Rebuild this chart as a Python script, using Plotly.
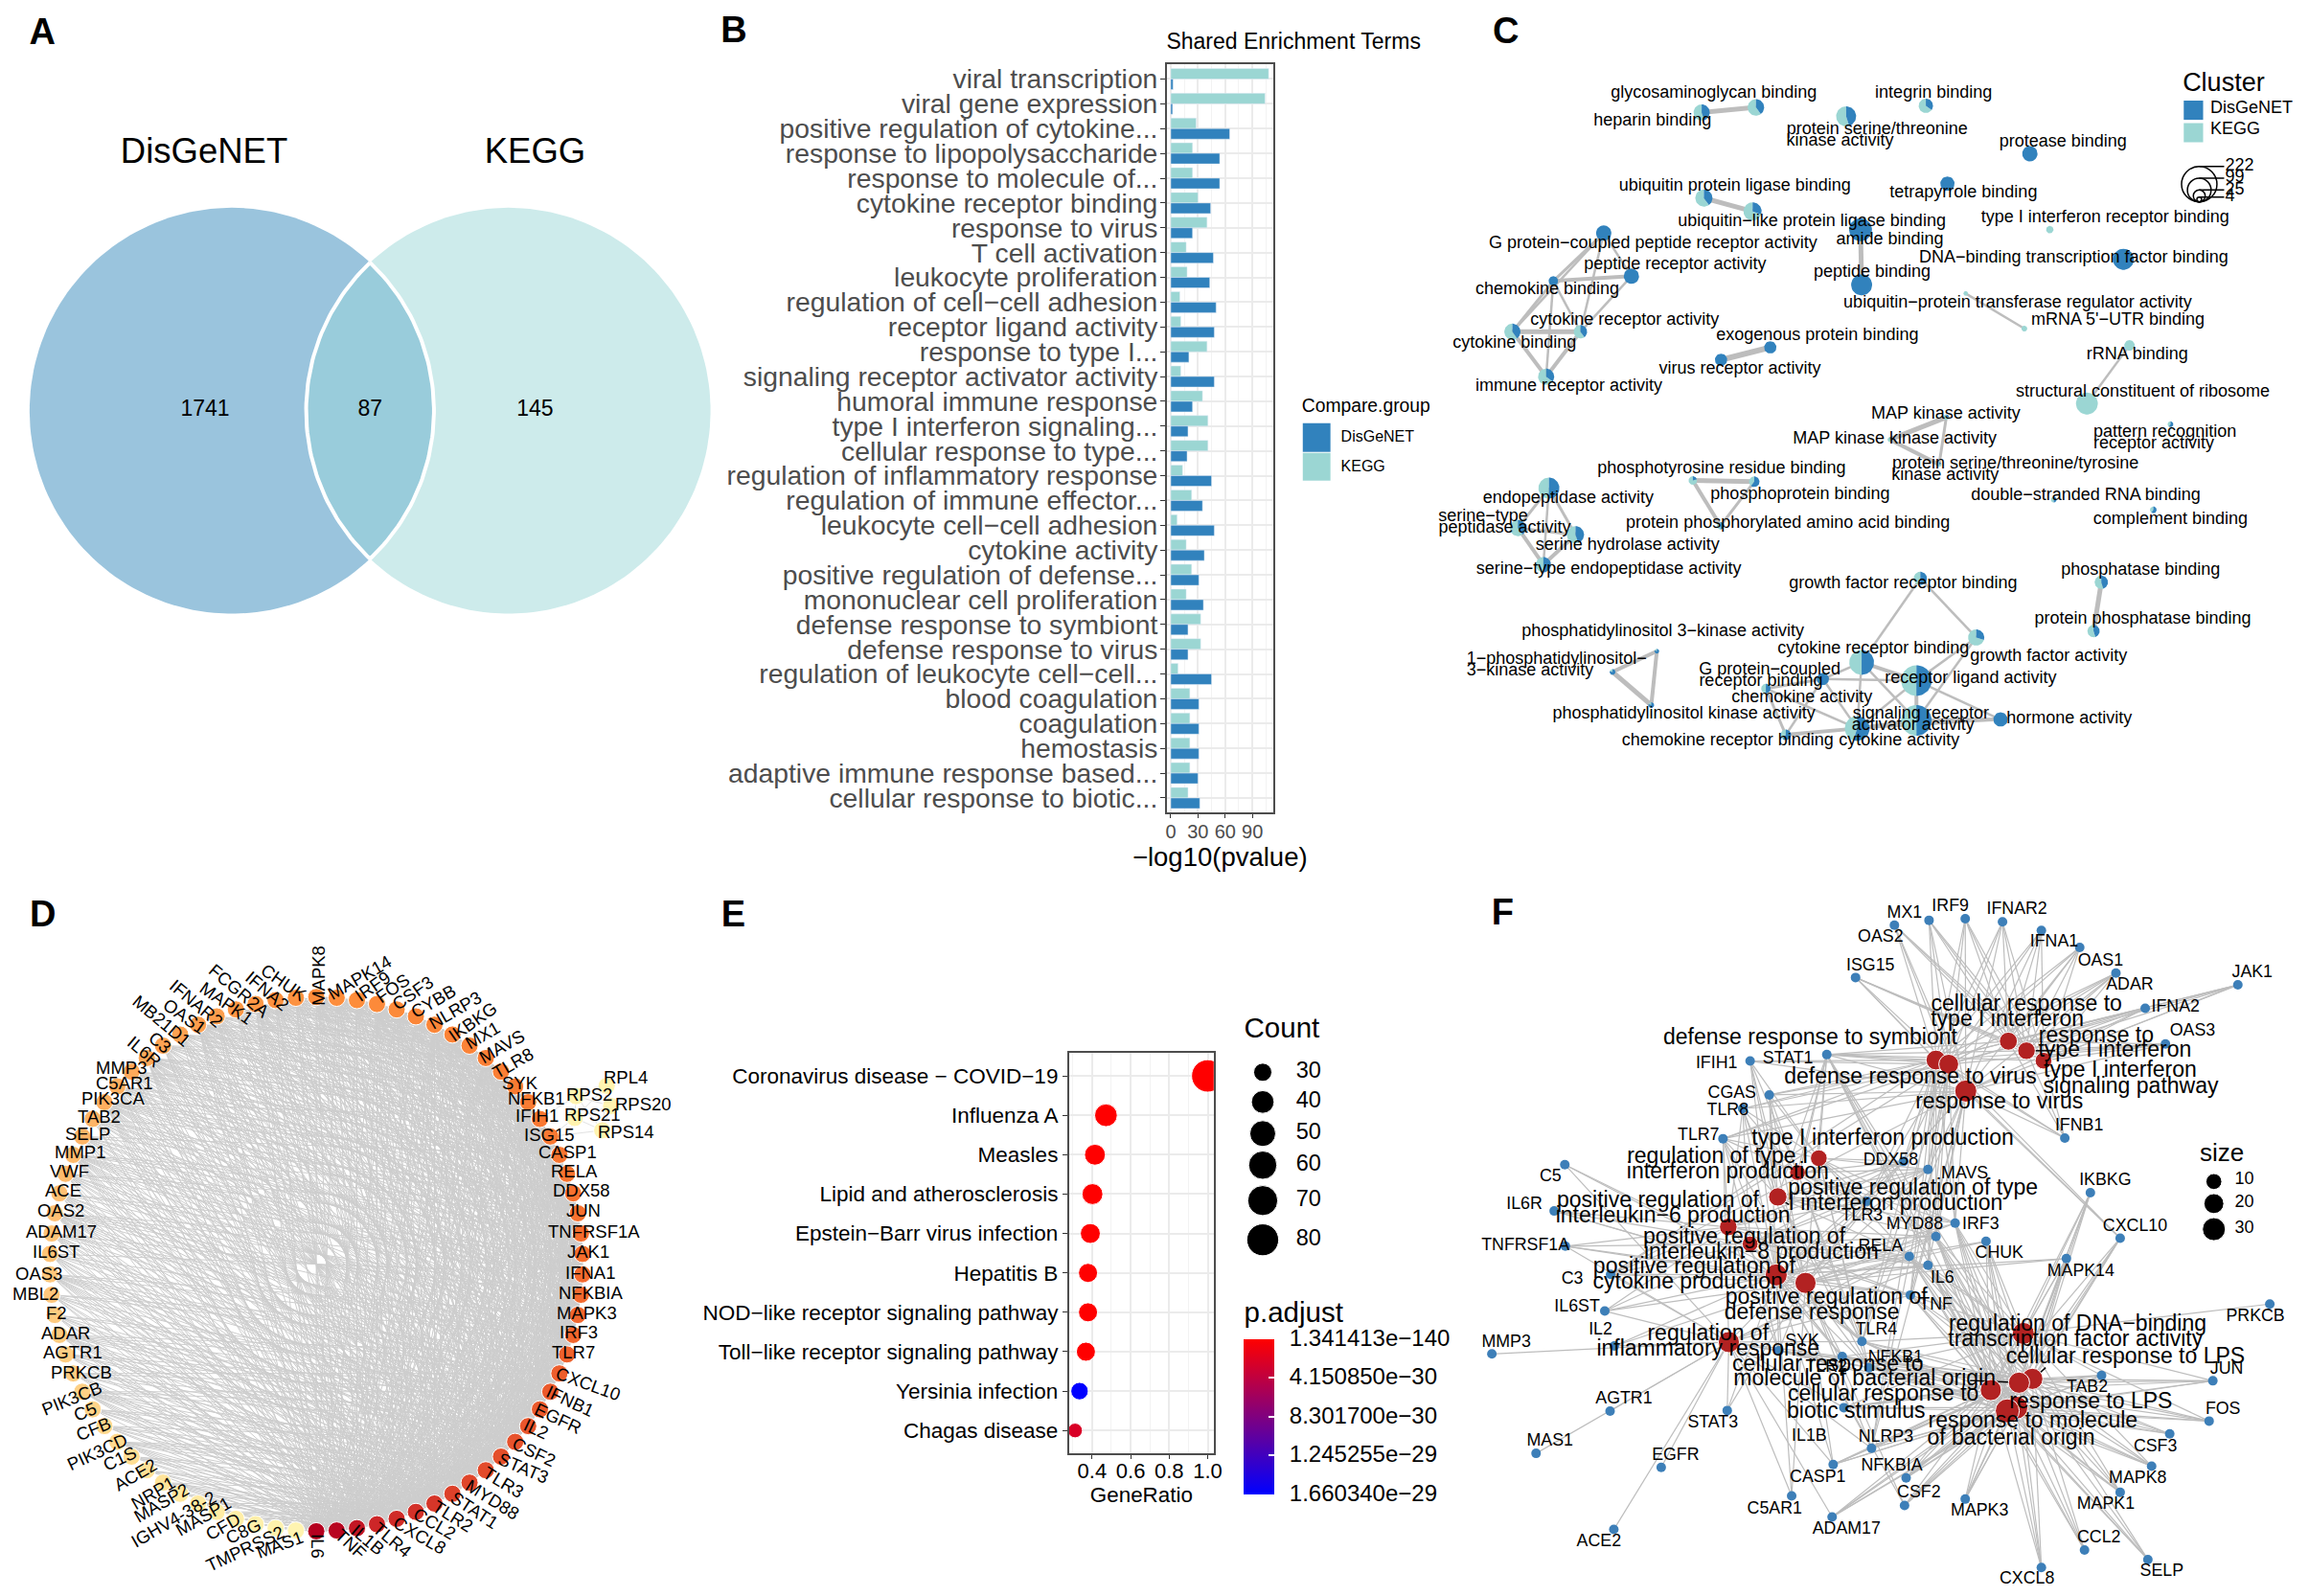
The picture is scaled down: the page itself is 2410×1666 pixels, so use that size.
import numpy as np
import plotly.graph_objects as go

W, H = 2410, 1666
FONT = "Liberation Sans"
BLUE, TEAL = "#3182BD", "#9BD6D3"

# ---------- A: Venn ----------
venn_sets = ["DisGeNET", "KEGG"]
venn_counts = [1741, 87, 145]

# ---------- B: enrichment bars ----------
b_terms = ["viral transcription", "viral gene expression", "positive regulation of cytokine...",
           "response to lipopolysaccharide", "response to molecule of...", "cytokine receptor binding",
           "response to virus", "T cell activation", "leukocyte proliferation",
           "regulation of cell−cell adhesion", "receptor ligand activity", "response to type I...",
           "signaling receptor activator activity", "humoral immune response", "type I interferon signaling...",
           "cellular response to type...", "regulation of inflammatory response", "regulation of immune effector...",
           "leukocyte cell−cell adhesion", "cytokine activity", "positive regulation of defense...",
           "mononuclear cell proliferation", "defense response to symbiont", "defense response to virus",
           "regulation of leukocyte cell−cell...", "blood coagulation", "coagulation", "hemostasis",
           "adaptive immune response based...", "cellular response to biotic..."]
b_kegg = [108, 104, 28, 24, 24, 30, 40, 17, 18, 10, 11, 40, 11, 35, 41, 41, 13, 23, 7, 17, 23, 17, 33, 33, 8, 21, 21, 21, 21, 19]
b_disgenet = [2.5, 2, 65, 54, 54, 44, 24, 47, 43, 50, 48, 20, 48, 24, 19, 18, 45, 35, 48, 37, 31, 36, 19, 19, 45, 31, 31, 31, 30, 32]

# ---------- C: enrichment map ----------
c_x = [574, 476, 737, 881, 1069, 920, 480, 568, 1105, 763, 765, 1238, 953, 1059, 299, 349, 208, 257, 134, 195, 600, 511,
       1249, 1172, 1323, 918, 816, 905, 460, 571, 510, 1112, 1292, 200, 144, 248, 190, 871, 1198, 1184, 972, 395, 315,
       385, 765, 864, 695, 592, 864, 757, 628, 1016]
c_y = [269, 285, 297, 264, 414, 508, 553, 595, 652, 652, 825, 745, 852, 962, 663, 798, 813, 972, 972, 1113, 1021, 1060,
       1015, 1197, 1262, 1240, 1310, 1388, 1438, 1442, 1580, 1498, 1530, 1462, 1587, 1608, 1702, 1745, 1757, 1910, 1930,
       1973, 2038, 2142, 2008, 2065, 2060, 2090, 2190, 2215, 2235, 2187]
c_count = [49, 47, 72, 37, 42, 37, 53, 59, 10, 94, 79, 79, 4, 6, 42, 42, 16, 32, 47, 47, 27, 27,
           20, 86, 6, 6, 4, 4, 13, 20, 10, 6, 8, 79, 47, 53, 42, 32, 32, 27, 47, 4, 6,
           6, 110, 167, 27, 16, 167, 110, 20, 37]
c_disgenet_share = [.4, .45, .45, .35, 1, 1, .4, .3, 0, 1, 1, 1, 0, 0, 1, 1, 1, .4, .4, .35, 1, 1,
                    0, 0, .6, .2, .1, .2, .2, .6, .5, .5, .6, .5, .4, .45, .5, .5, .45, .45, .3, .8, .8,
                    .8, .5, .5, 1, .5, .5, .55, .6, 1]
c_edges = [(1, 2, 5), (7, 8, 5), (10, 11, 5), (13, 14, 2.5), (15, 16, 2.5), (15, 17, 3), (15, 18, 2.5), (16, 17, 4),
           (16, 18, 2.5), (17, 18, 2.5), (17, 19, 3), (17, 20, 2.5), (18, 19, 5), (18, 20, 4), (19, 20, 4), (15, 19, 2.5),
           (21, 22, 6), (23, 24, 2.5), (26, 27, 5), (27, 28, 4), (26, 28, 3), (29, 30, 5), (29, 31, 4), (30, 31, 3),
           (34, 35, 3), (34, 36, 3), (34, 37, 2.5), (35, 36, 3), (35, 37, 4), (36, 37, 4), (38, 41, 2.5), (38, 45, 2.5),
           (39, 40, 5), (42, 43, 4), (43, 44, 5), (42, 44, 4), (45, 46, 4), (45, 49, 2.5), (45, 50, 2.5), (46, 49, 4),
           (46, 50, 2.5), (49, 50, 4), (45, 47, 2.5), (46, 47, 2.5), (47, 48, 3), (47, 50, 2.5), (47, 51, 2.5), (48, 50, 2.5),
           (48, 51, 3), (50, 51, 4), (41, 46, 2.5), (41, 49, 2.5), (46, 52, 2.5), (49, 52, 4), (50, 52, 2.5)]
c_labels = ["glycosaminoglycan binding", "heparin binding", "protein serine/threonine", "kinase activity", "integrin binding",
            "protease binding", "ubiquitin protein ligase binding", "tetrapyrrole binding",
            "ubiquitin−like protein ligase binding", "type I interferon receptor binding", "amide binding",
            "G protein−coupled peptide receptor activity", "DNA−binding transcription factor binding",
            "peptide receptor activity", "peptide binding", "chemokine binding",
            "ubiquitin−protein transferase regulator activity", "cytokine receptor activity", "mRNA 5'−UTR binding",
            "exogenous protein binding", "cytokine binding", "rRNA binding", "virus receptor activity",
            "immune receptor activity", "structural constituent of ribosome", "MAP kinase activity",
            "MAP kinase kinase activity", "pattern recognition", "receptor activity", "protein serine/threonine/tyrosine",
            "kinase activity", "phosphotyrosine residue binding", "double−stranded RNA binding", "phosphoprotein binding",
            "endopeptidase activity", "complement binding", "serine−type", "peptidase activity",
            "protein phosphorylated amino acid binding", "serine hydrolase activity", "serine−type endopeptidase activity",
            "phosphatase binding", "growth factor receptor binding", "protein phosphatase binding",
            "phosphatidylinositol 3−kinase activity", "cytokine receptor binding", "growth factor activity",
            "1−phosphatidylinositol−", "3−kinase activity", "G protein−coupled", "receptor binding",
            "receptor ligand activity", "chemokine activity", "phosphatidylinositol kinase activity", "signaling receptor",
            "activator activity", "hormone activity", "chemokine receptor binding", "cytokine activity"]
c_label_x = [498, 387, 793, 726, 895, 1129, 536, 949, 675, 1205, 816, 388, 1148, 428, 784, 197, 1047, 337, 1228, 685, 138,
             1263, 545, 236, 1273, 917, 825, 1313, 1293, 1043, 916, 512, 1170, 654, 235, 1323, 81, 120, 632, 342, 308, 1269,
             840, 1273, 406, 786, 1103, 214, 166, 599, 583, 962, 657, 444, 872, 858, 1140, 523, 833]
c_label_y = [224, 313, 338, 375, 226, 379, 517, 538, 627, 615, 685, 695, 742, 762, 787, 842, 882, 937, 936, 986, 1010, 1044,
             1090, 1143, 1161, 1231, 1310, 1287, 1323, 1387, 1423, 1402, 1487, 1482, 1496, 1560, 1552, 1587, 1573, 1641, 1718,
             1720, 1762, 1872, 1913, 1967, 1990, 2000, 2036, 2032, 2068, 2058, 2120, 2170, 2170, 2205, 2185, 2255, 2255]
c_size_legend = [222, 99, 25, 4]

# ---------- D: circular PPI network ----------
d_genes = ["IL6", "TNF", "IL1B", "TLR4", "CXCL8", "CCL2", "TLR2", "STAT1", "MYD88", "TLR3", "STAT3", "CSF2", "IL2", "EGFR",
           "IFNB1", "CXCL10", "TLR7", "IRF3", "MAPK3", "NFKBIA", "IFNA1", "JAK1", "TNFRSF1A", "JUN", "DDX58", "RELA", "CASP1",
           "ISG15", "IFIH1", "NFKB1", "SYK", "TLR8", "MAVS", "MX1", "IKBKG", "NLRP3", "CYBB", "CSF3", "FOS", "IRF9", "MAPK14",
           "MAPK8", "CHUK", "IFNA2", "FCGR2A", "MAPK1", "IFNAR2", "OAS1", "MB21D1", "C3", "IL6R", "MMP3", "C5AR1", "PIK3CA",
           "TAB2", "SELP", "MMP1", "VWF", "ACE", "OAS2", "ADAM17", "IL6ST", "OAS3", "MBL2", "F2", "ADAR", "AGTR1", "PRKCB",
           "PIK3CB", "C5", "CFB", "PIK3CD", "C1S", "ACE2", "NRP1", "MASP2", "IGHV4-38-2", "MASP1", "CFD", "C8G", "TMPRSS2", "MAS1"]
d_degree = [62, 61, 58, 55, 54, 53, 52, 50, 49, 48, 47, 46, 45, 44, 44, 43, 42, 41, 41, 40,
            40, 39, 39, 38, 38, 37, 37, 36, 36, 35, 35, 34, 34, 33, 33, 32, 32, 31, 31, 30,
            30, 30, 29, 29, 28, 28, 27, 27, 26, 26, 25, 25, 24, 24, 23, 23, 22, 22, 21, 21,
            20, 20, 19, 19, 18, 18, 17, 17, 16, 15, 14, 13, 12, 11, 10, 9, 8, 7, 6, 5, 4, 3]
d_label_x = [712, 785, 825, 880, 940, 975, 1015, 1065, 1105, 1130, 1175, 1198, 1203, 1252, 1280, 1320, 1288, 1300, 1318, 1327,
             1325, 1320, 1333, 1309, 1306, 1289, 1275, 1233, 1205, 1205, 1168, 1152, 1125, 1083, 1060, 1020, 970, 925, 880, 835,
             805, 713, 635, 598, 535, 507, 438, 410, 360, 357, 320, 268, 277, 250, 218, 193, 175, 153, 138, 133, 133, 122, 82, 75,
             123, 143, 160, 180, 158, 188, 206, 215, 265, 300, 340, 360, 388, 455, 498, 543, 548, 625]
d_label_y = [1465, 1460, 1450, 1450, 1440, 1412, 1395, 1380, 1357, 1315, 1282, 1243, 1190, 1165, 1125, 1085, 1012, 965, 918, 871,
             825, 775, 728, 680, 633, 587, 543, 503, 458, 418, 381, 335, 295, 270, 237, 210, 190, 170, 160, 155, 135, 130, 145,
             165, 165, 195, 195, 225, 235, 287, 308, 345, 382, 418, 459, 499, 543, 587, 633, 680, 728, 775, 827, 875, 920, 966,
             1012, 1057, 1118, 1150, 1190, 1243, 1260, 1297, 1340, 1362, 1402, 1395, 1420, 1430, 1470, 1462]
d_label_angle = [90, 43, 40, 40, 30, 30, 32, 33, 32, 31, 23, 25, 25, 25, 25, 20, 0, 0, 0, 0,
                 0, 0, 0, 0, 0, 0, 0, 0, 0, 0, 0, -30, -30, -30, -35, -30, -30, -35, -35, -35,
                 -30, -90, 35, 40, 40, 35, 40, 35, 40, 40, 40, 0, 0, 0, 0, 0, 0, 0, 0, 0,
                 0, 0, 0, 0, 0, 0, 0, 0, -22, -22, -22, -25, -25, -30, -30, -30, -30, -30, -30, -25, -25, -20]
rps_genes = ["RPL4", "RPS2", "RPS20", "RPS21", "RPS14"]
rps_x = [1362, 1293, 1372, 1290, 1352]
rps_y = [388, 412, 435, 463, 492]
rps_label_x = [1405, 1322, 1444, 1330, 1405]
rps_label_y = [367, 407, 430, 456, 496]

# ---------- E: KEGG dot plot ----------
e_terms = ["Coronavirus disease − COVID−19", "Influenza A", "Measles", "Lipid and atherosclerosis",
           "Epstein−Barr virus infection", "Hepatitis B", "NOD−like receptor signaling pathway",
           "Toll−like receptor signaling pathway", "Yersinia infection", "Chagas disease"]
e_ratio = [1.0, 0.472, 0.415, 0.402, 0.391, 0.379, 0.379, 0.368, 0.335, 0.312]
e_count = [82, 40, 36, 36, 34, 32, 32, 32, 29, 25]
e_padjust = [1.34e-140, 1e-60, 1e-55, 1e-50, 1e-50, 1e-45, 1e-45, 1e-45, 1.66e-29, 2.5e-30]
e_count_legend = [30, 40, 50, 60, 70, 80]
e_count_diam = [19, 23.7, 27, 29.5, 31.4, 33.3]
e_p_ticks = [1.341413e-140, 4.15085e-30, 8.3017e-30, 1.245255e-29, 1.66034e-29]
e_p_labels = ["1.341413e−140", "4.150850e−30", "8.301700e−30", "1.245255e−29", "1.660340e−29"]

# ---------- F: gene-concept network ----------
f_genes = ["OAS2", "MX1", "IRF9", "IFNAR2", "IFNA1", "OAS1", "ADAR", "ISG15", "JAK1", "IFNA2", "OAS3", "STAT1", "IFIH1", "CGAS",
           "TLR8", "TLR7", "IFNB1", "C5", "DDX58", "MAVS", "IKBKG", "IL6R", "TLR3", "MYD88", "IRF3", "CXCL10", "TNFRSF1A", "RELA",
           "CHUK", "IL6", "MAPK14", "C3", "TNF", "IL6ST", "IL2", "PRKCB", "MMP3", "TLR4", "SYK", "NFKB1", "TAB2", "TLR2", "JUN",
           "AGTR1", "STAT3", "FOS", "IL1B", "NLRP3", "CSF3", "MAS1", "EGFR", "NFKBIA", "MAPK8", "CASP1", "CSF2", "MAPK3", "MAPK1",
           "C5AR1", "ADAM17", "CCL2", "ACE2", "SELP", "CXCL8"]
f_x = [788, 853, 921, 991, 1064, 1136, 1204, 715, 1433, 1259, 1297, 661, 517, 553, 503, 466, 1108, 169, 805, 851, 1156, 149, 736,
       866, 902, 1212, 170, 816, 960, 851, 1111, 255, 818, 244, 262, 1493, 32, 727, 571, 740, 1177, 690, 1386, 254, 474, 1379, 693,
       745, 1305, 115, 350, 810, 1271, 673, 807, 921, 1212, 595, 671, 1145, 261, 1264, 1064]
f_y = [101, 86, 81, 91, 118, 171, 251, 265, 288, 361, 473, 506, 526, 632, 675, 769, 767, 850, 840, 865, 938, 995, 965, 1075, 1033,
       1080, 1105, 1137, 1090, 1165, 1144, 1193, 1258, 1308, 1417, 1286, 1442, 1403, 1432, 1485, 1509, 1450, 1526, 1621, 1619, 1652,
       1610, 1737, 1692, 1753, 1797, 1830, 1793, 1788, 1916, 1896, 1875, 1886, 1952, 2055, 1991, 2085, 2110]
f_label_x = [762, 807, 893, 1018, 1088, 1175, 1230, 743, 1460, 1316, 1348, 588, 454, 483, 475, 420, 1135, 142, 781, 920, 1184, 93,
             727, 826, 950, 1240, 95, 762, 985, 878, 1138, 183, 866, 192, 236, 1466, 59, 754, 615, 790, 1150, 660, 1412, 280, 447,
             1405, 628, 772, 1278, 141, 377, 783, 1245, 644, 834, 948, 1185, 563, 698, 1172, 233, 1290, 1037]
f_label_y = [140, 66, 45, 52, 155, 215, 290, 228, 250, 358, 432, 520, 535, 627, 683, 760, 730, 888, 838, 880, 902, 975, 1012, 1038,
             1038, 1043, 1105, 1108, 1129, 1205, 1184, 1208, 1290, 1295, 1367, 1325, 1407, 1368, 1405, 1456, 1548, 1485, 1490,
             1583, 1658, 1616, 1700, 1702, 1732, 1716, 1761, 1794, 1832, 1828, 1878, 1935, 1912, 1927, 1991, 2019, 2031, 2124, 2148]
f_term_x = [1002, 1036, 1068, 866, 890, 922, 646, 606, 569, 476, 517, 566, 621, 477, 1030, 1047, 1022, 969, 1017, 1000]
f_term_y = [464, 494, 525, 523, 536, 620, 830, 875, 951, 1045, 1098, 1195, 1220, 1405, 1378, 1520, 1532, 1555, 1610, 1620]
f_term_size = [15, 14, 12, 20, 20, 27, 12, 10, 16, 14, 10, 27, 24, 24, 27, 24, 24, 24, 30, 34]
f_term_labels = ["cellular response to", "type I interferon", "defense response to symbiont", "response to", "type I interferon",
                 "type I interferon", "signaling pathway", "defense response to virus", "response to virus",
                 "type I interferon production", "regulation of type I", "interferon production",
                 "positive regulation of type", "I interferon production", "positive regulation of",
                 "interleukin−6 production", "positive regulation of", "interleukin−8 production", "positive regulation of",
                 "cytokine production", "positive regulation of", "defense response", "regulation of", "inflammatory response",
                 "regulation of DNA−binding", "transcription factor activity", "cellular response to LPS", "cellular response to",
                 "molecule of bacterial origin", "cellular response to", "biotic stimulus", "response to LPS", "response to molecule",
                 "of bacterial origin"]
f_term_label_x = [1036, 1000, 630, 1167, 1202, 1212, 1232, 818, 985, 766, 456, 475, 823, 790, 344, 372, 506, 538, 412, 400, 660, 633,
                  438, 438, 1132, 1128, 1222, 663, 732, 767, 716, 1157, 1048, 1007]
f_term_label_y = [352, 400, 455, 449, 494, 559, 608, 578, 658, 772, 829, 877, 927, 974, 965, 1012, 1080, 1127, 1173, 1220, 1268, 1316,
                  1383, 1430, 1353, 1400, 1455, 1477, 1522, 1570, 1625, 1595, 1655, 1708]
f_ifn = ["MX1", "IRF9", "OAS2", "IFNAR2", "IFNA1", "OAS1", "ADAR", "ISG15", "JAK1", "IFNA2", "OAS3", "STAT1", "IFNB1"]
f_virus = ["IFIH1", "CGAS", "TLR8", "TLR7", "TLR3", "DDX58", "MAVS", "IRF3", "MYD88", "IL6", "TNF", "TLR4", "NLRP3", "CXCL10", "C3"]
f_prod = ["STAT1", "IFIH1", "CGAS", "TLR8", "TLR7", "TLR3", "DDX58", "MAVS", "IRF3", "MYD88", "TLR4", "RELA", "NFKB1"]
f_il = ["TNFRSF1A", "IL6R", "C3", "TLR7", "TLR3", "TLR4", "TLR8", "DDX58", "MAVS", "MYD88", "IL6", "TNF", "RELA", "SYK", "TLR2", "IL6ST"]
f_cyt = ["C5", "C3", "IL6R", "TNFRSF1A", "IL6ST", "IL2", "CGAS", "IFIH1", "STAT1", "TLR7", "TLR8", "TLR3", "TLR4", "TLR2", "MYD88",
         "IRF3", "DDX58", "MAVS", "RELA", "NFKB1", "IL6", "TNF", "SYK", "CHUK", "MAPK14", "STAT3", "NLRP3", "CASP1", "C5AR1", "CSF2"]
f_infl = ["C5", "C3", "MMP3", "AGTR1", "MAS1", "IL2", "EGFR", "ACE2", "STAT3", "IL6", "TNF", "TLR2", "TLR3", "TLR4", "TLR7", "SYK",
          "NFKB1", "RELA", "C5AR1", "ADAM17", "CASP1", "NLRP3", "IL1B", "MYD88", "IL6ST", "TNFRSF1A"]
f_dna = ["PRKCB", "MAPK14", "MAPK1", "MAPK3", "CHUK", "JUN", "TAB2", "RELA", "NFKB1", "IKBKG", "IL1B", "TLR4", "TLR2", "MYD88", "TNF",
         "IL6", "MAPK8", "FOS", "NFKBIA", "IRF3"]
f_lps = ["CXCL8", "CCL2", "SELP", "MAPK8", "MAPK1", "MAPK3", "CSF3", "CSF2", "FOS", "JUN", "TAB2", "NFKBIA", "ADAM17", "CASP1", "NLRP3",
         "IL1B", "TNF", "IL6", "RELA", "NFKB1", "TLR4", "TLR2", "MYD88", "CXCL10", "CHUK", "IKBKG", "IRF3", "SYK", "MAPK14", "STAT1"]
f_groups = [([0, 1, 2], f_ifn), ([3, 4, 5], f_ifn + f_virus), ([6, 7, 8], f_prod), ([9, 10], f_il), ([11, 12], f_cyt),
            ([13], f_infl), ([14], f_dna), ([15, 16, 17, 18, 19], f_lps)]
f_size_legend = [10, 20, 30]

# ---------- helpers ----------
layout = dict(width=W, height=H, margin=dict(l=0, r=0, t=0, b=0), autosize=False, showlegend=False,
              paper_bgcolor="white", plot_bgcolor="rgba(0,0,0,0)", font=dict(family=FONT, color="black"),
              annotations=[], bargap=0.15, bargroupgap=0)
traces = []
axis_count = 0


def panel(left, top, right, bottom, xr, yr, **kw):
    global axis_count
    axis_count += 1
    n = axis_count
    xa = dict(domain=[left / W, right / W], range=xr, anchor=f"y{n}", visible=False, fixedrange=True)
    ya = dict(domain=[1 - bottom / H, 1 - top / H], range=yr, anchor=f"x{n}", visible=False, fixedrange=True)
    xa.update(kw.get("x", {}))
    ya.update(kw.get("y", {}))
    layout[f"xaxis{n}"] = xa
    layout[f"yaxis{n}"] = ya
    return f"x{n}", f"y{n}"


def text(ax, xs, ys, labels, size, color="black", pos="middle center", bold=False):
    traces.append(go.Scatter(x=xs, y=ys, text=labels, mode="text", textposition=pos, xaxis=ax[0], yaxis=ax[1],
                             textfont=dict(size=size, color=color, family=FONT, weight=700 if bold else 400),
                             hoverinfo="skip", cliponaxis=False))


def segments(ax, pairs, color, width):
    xs, ys = [], []
    for a, b, c, d in pairs:
        xs += [a, c, None]
        ys += [b, d, None]
    traces.append(go.Scatter(x=xs, y=ys, mode="lines", line=dict(color=color, width=width), xaxis=ax[0], yaxis=ax[1],
                             hoverinfo="skip", cliponaxis=False))


def ring(cx, cy, r, a0=0.0, a1=2 * np.pi, wedge=False, sx=1.0, sy=1.0, n=60):
    t = np.linspace(a0, a1, n)
    xs = list(cx + r * sx * np.sin(t))
    ys = list(cy - r * sy * np.cos(t))
    if wedge:
        xs, ys = [cx] + xs + [cx], [cy] + ys + [cy]
    return xs, ys


def poly(ax, xs, ys, fill, line=None, lw=0):
    traces.append(go.Scatter(x=xs, y=ys, mode="lines", fill="toself", fillcolor=fill,
                             line=dict(color=line or fill, width=lw), xaxis=ax[0], yaxis=ax[1], hoverinfo="skip",
                             cliponaxis=False))


# ---------- A ----------
axA = panel(0, 0, 760, 680, [0, 760], [680, 0])
lx, rx, cy, R = 241, 531, 428, 212
xs, ys = ring(lx, cy, R, n=180)
poly(axA, xs, ys, "#9AC4DD")
xs, ys = ring(rx, cy, R, n=180)
poly(axA, xs, ys, "#CDEBEB")
half = np.arccos((rx - lx) / 2 / R)
t = np.linspace(-half, half, 70)
lens_x = list(lx + R * np.cos(t)) + list(rx - R * np.cos(t[::-1]))
lens_y = list(cy + R * np.sin(t)) + list(cy + R * np.sin(t[::-1]))
poly(axA, lens_x + lens_x[:1], lens_y + lens_y[:1], "#99CCDB", "white", 4)
text(axA, [212, 559], [160, 160], venn_sets, 36.5)
text(axA, [213, 386, 559], [428, 428, 428], [str(v) for v in venn_counts], 23)

# ---------- B ----------
grid = dict(showgrid=True, gridcolor="#EBEBEB", gridwidth=1.5)
axB = panel(1221.6, 66, 1332.6, 848, [-4.2, 112.6], [29.6, -0.6],
            x=dict(visible=True, tickvals=[0, 30, 60, 90], ticks="outside", ticklen=4, tickcolor="#333333",
                   tickfont=dict(size=20, color="#4D4D4D"), showline=True, linecolor="#4D4D4D", linewidth=2, mirror=True,
                   zeroline=False, minor=dict(showgrid=True, dtick=15, gridcolor="#F3F3F3", gridwidth=1), **grid,
                   ticklabelstandoff=-3,
                   title=dict(text="−log10(pvalue)", font=dict(size=27.5, color="black"), standoff=0)),
            y=dict(visible=True, type="category", categoryorder="array", categoryarray=b_terms, ticks="outside", ticklen=5,
                   tickcolor="#333333", tickfont=dict(size=28.3, color="#4D4D4D"), showline=True, linecolor="#4D4D4D",
                   linewidth=2, mirror=True, zeroline=False, dtick=1, ticklabelstandoff=-3, **grid))
traces.append(go.Bar(y=b_terms, x=b_kegg, name="KEGG", orientation="h", marker=dict(color=TEAL), xaxis=axB[0], yaxis=axB[1],
                     offsetgroup="k"))
traces.append(go.Bar(y=b_terms, x=b_disgenet, name="DisGeNET", orientation="h", marker=dict(color=BLUE), xaxis=axB[0], yaxis=axB[1],
                     offsetgroup="d"))

# ---------- overlay for legends / letters ----------
axO = panel(0, 0, W, H, [0, W], [H, 0])

# ---------- C ----------
C_SX, C_SY = 1568 / 910, 3.0
axC = panel(1506, 21.5, 2410, 851.5, [0, 1557.7], [2490, 0])
for w in sorted({e[2] for e in c_edges}):
    segments(axC, [(c_x[a - 1], c_y[a - 1], c_x[b - 1], c_y[b - 1]) for a, b, ww in c_edges if ww == w], "#BDBDBD", w)
kx, ky, dx, dy = [], [], [], []
for x0, y0, n, s in zip(c_x, c_y, c_count, c_disgenet_share):
    r = 1.24 * np.sqrt(n)
    if s > 0:
        a, b = ring(x0, y0, r, 0, 2 * np.pi * s, s < 1, C_SX, C_SY, 36)
        dx += a + [None]
        dy += b + [None]
    if s < 1:
        a, b = ring(x0, y0, r, 2 * np.pi * s, 2 * np.pi, s > 0, C_SX, C_SY, 36)
        kx += a + [None]
        ky += b + [None]
poly(axC, kx, ky, TEAL)
poly(axC, dx, dy, BLUE)
text(axC, c_label_x, c_label_y, c_labels, 18)
text(axC, [1345], [196], ["Cluster"], 27, pos="middle right")
poly(axC, [1347, 1382, 1382, 1347, 1347], [248, 248, 308, 308, 248], BLUE)
poly(axC, [1347, 1382, 1382, 1347, 1347], [318, 318, 378, 378, 318], TEAL)
text(axC, [1395, 1395], [273, 340], ["DisGeNET", "KEGG"], 18, pos="middle right")
size_r = [1.24 * np.sqrt(v) for v in c_size_legend]
lg_bottom = 565
traces.append(go.Scatter(x=[1375] * 4, y=[lg_bottom - r * C_SY for r in size_r], mode="markers", xaxis=axC[0], yaxis=axC[1],
                         marker=dict(size=[2 * r for r in size_r], color="rgba(0,0,0,0)", opacity=1, line=dict(color="black", width=1.5)),
                         hoverinfo="skip", cliponaxis=False))
segments(axC, [(1375, lg_bottom - 2 * r * C_SY, 1420, lg_bottom - 2 * r * C_SY) for r in size_r], "black", 1.5)
text(axC, [1422, 1422, 1422, 1422], [452, 488, 527, 548], [str(v) for v in c_size_legend], 18, pos="middle right")

# ---------- D ----------
axD = panel(0, 960, 730, 1660, [0, 1568], [1568, 0])
D_CX, D_CY, D_RX, D_RY = 708, 805, 600, 625
theta = np.arange(len(d_genes)) * 2 * np.pi / len(d_genes)
d_x = D_CX + D_RX * np.sin(theta)
d_y = D_CY + D_RY * np.cos(theta)
pairs = []
for i in range(len(d_genes)):
    for j in range(i + 1, len(d_genes)):
        if d_degree[i] + d_degree[j] >= 60 and ((i + 1) * (j + 1)) % 3 != 1 and (i * 5 + j * 3) % 7 != 0:
            pairs.append((d_x[i], d_y[i], d_x[j], d_y[j]))
segments(axD, pairs, "#CDCDCD", 1)
rps_pairs = [(rps_x[i], rps_y[i], rps_x[j], rps_y[j]) for i in range(5) for j in range(i + 1, 5)]
rps_pairs += [(rps_x[3], rps_y[3], d_x[27], d_y[27]), (rps_x[1], rps_y[1], d_x[28], d_y[28]), (rps_x[4], rps_y[4], d_x[27], d_y[27])]
segments(axD, rps_pairs, "#E2E2E2", 1)
heat = [[0, "#FFF4B0"], [.1, "#FFE89E"], [.3, "#FEC276"], [.45, "#FD8F3C"], [.6, "#F7702E"], [.77, "#E2492B"], [.9, "#C92027"], [1, "#B5001F"]]
traces.append(go.Scatter(x=list(d_x) + rps_x, y=list(d_y) + rps_y, mode="markers", xaxis=axD[0], yaxis=axD[1], hoverinfo="skip",
                         cliponaxis=False,
                         marker=dict(size=18, color=d_degree + [3] * 5, colorscale=heat, cmin=3, cmax=62, opacity=1,
                                     line=dict(color="white", width=1))))
for name, x0, y0, ang in zip(d_genes + rps_genes, d_label_x + rps_label_x, d_label_y + rps_label_y, d_label_angle + [0] * 5):
    layout["annotations"].append(dict(x=x0, y=y0, xref=axD[0], yref=axD[1], text=name, textangle=ang, showarrow=False,
                                      xanchor="center", yanchor="middle", font=dict(size=18.5, color="black")))

# ---------- E ----------
axE = panel(1119, 1098.9, 1270.6, 1517, [0.281, 1.031], [9.58, -0.58],
            x=dict(visible=True, tickvals=[0.4, 0.6, 0.8, 1.0], ticktext=["0.4", "0.6", "0.8", "1.0"], ticks="outside",
                   ticklen=4, tickcolor="#333333", tickfont=dict(size=22), showline=True, linecolor="#4D4D4D", linewidth=2,
                   mirror=True, zeroline=False, minor=dict(showgrid=True, tickvals=[0.3, 0.5, 0.7, 0.9], gridcolor="#F3F3F3", gridwidth=1),
                   ticklabelstandoff=-6, **grid, title=dict(text="GeneRatio", font=dict(size=22.4), standoff=5)),
            y=dict(visible=True, type="category", categoryorder="array", categoryarray=e_terms, ticks="outside", ticklen=5,
                   tickcolor="#333333", tickfont=dict(size=22.5), showline=True, linecolor="#4D4D4D", linewidth=2, mirror=True,
                   zeroline=False, dtick=1, **grid))
p_max = e_p_ticks[-1]
diam_counts = [25] + e_count_legend + [90]
diam_sizes = [15.3] + e_count_diam + [36]
traces.append(go.Scatter(x=e_ratio, y=e_terms, mode="markers", xaxis=axE[0], yaxis=axE[1], hoverinfo="skip",
                         marker=dict(size=np.interp(e_count, diam_counts, diam_sizes), color=[p_max - p for p in e_padjust],
                                     opacity=1, colorscale=[[0, "#0000FF"], [1, "#FF0000"]], cmin=0, cmax=p_max - e_p_ticks[0],
                                     showscale=True,
                                     colorbar=dict(x=1302 / W, xanchor="left", y=1 - 1397.4 / H, yanchor="top", lenmode="pixels",
                                                   len=161.6, thicknessmode="pixels", thickness=32, xpad=0, ypad=0,
                                                   outlinewidth=0, tickmode="array", tickvals=[p_max - p for p in e_p_ticks],
                                                   ticks="inside", tickcolor="white", ticklen=6, tickwidth=1.5,
                                                   showticklabels=False))))
text(axO, [1350] * 5, [1398.5, 1439, 1479.5, 1520, 1561], e_p_labels, 24, pos="middle right")
text(axO, [1302.5, 1302.5], [1075, 1372], ["Count", "p.adjust"], 29.5, pos="middle right")
legend_y = [1119, 1150, 1183, 1216, 1253, 1294]
traces.append(go.Scatter(x=[1322] * 6, y=legend_y, mode="markers", xaxis=axO[0], yaxis=axO[1], hoverinfo="skip",
                         marker=dict(size=e_count_diam, color="black", opacity=1)))
text(axO, [1357] * 6, legend_y, [str(v) for v in e_count_legend], 23.5, pos="middle right")

# B legend
poly(axO, [1364, 1393, 1393, 1364, 1364], [441, 441, 471, 471, 441], BLUE)
poly(axO, [1364, 1393, 1393, 1364, 1364], [472, 472, 501, 501, 472], TEAL)
text(axO, [1363], [424], ["Compare.group"], 19.3, pos="middle right")
text(axO, [1404, 1404], [456, 487], ["DisGeNET", "KEGG"], 16, pos="middle right")
text(axO, [1221], [44], ["Shared Enrichment Terms"], 23, pos="middle right")
text(axO, [42.5, 767.5, 1577, 43, 767, 1573.5], [36, 34, 35, 957, 957, 955], list("ABCDEF"), 38, pos="middle center", bold=True)

# ---------- F ----------
axF = panel(1544.4, 931.5, 2410, 1666, [0, 1550.4], [2199, 0])
gene_index = {g: i for i, g in enumerate(f_genes)}
pairs = []
for term_ids, genes in f_groups:
    for t_id in term_ids:
        for g in set(genes):
            i = gene_index[g]
            pairs.append((f_term_x[t_id], f_term_y[t_id], f_x[i], f_y[i]))
segments(axF, pairs, "#BDBDBD", 1.2)
segments(axF, [(1040, 494, 1090, 494), (570, 955, 590, 975), (1050, 1518, 1072, 1485), (1022, 1532, 930, 1525)], "black", 1.5)
traces.append(go.Scatter(x=f_x, y=f_y, mode="markers", xaxis=axF[0], yaxis=axF[1], hoverinfo="skip", cliponaxis=False,
                         marker=dict(size=10, color="#3D7FB8")))
traces.append(go.Scatter(x=f_term_x, y=f_term_y, mode="markers", xaxis=axF[0], yaxis=axF[1], hoverinfo="skip", cliponaxis=False,
                         marker=dict(size=[6.5 + 3.19 * np.sqrt(v) for v in f_term_size], color="#B22222", opacity=1)))
text(axF, f_label_x, f_label_y, f_genes, 17.8)
text(axF, f_term_label_x, f_term_label_y, f_term_labels, 23)
text(axF, [1403], [820], ["size"], 26)
traces.append(go.Scatter(x=[1388] * 3, y=[903, 972, 1052], mode="markers", xaxis=axF[0], yaxis=axF[1], hoverinfo="skip",
                         marker=dict(size=[6.5 + 3.19 * np.sqrt(v) for v in f_size_legend], color="black", opacity=1)))
text(axF, [1445] * 3, [898, 969, 1050], [str(v) for v in f_size_legend], 18)

fig = go.Figure(data=traces, layout=layout)
fig.write_html("out.html", config={"displayModeBar": False},
               post_script="document.body.style.margin='0';document.body.style.overflow='hidden';")
